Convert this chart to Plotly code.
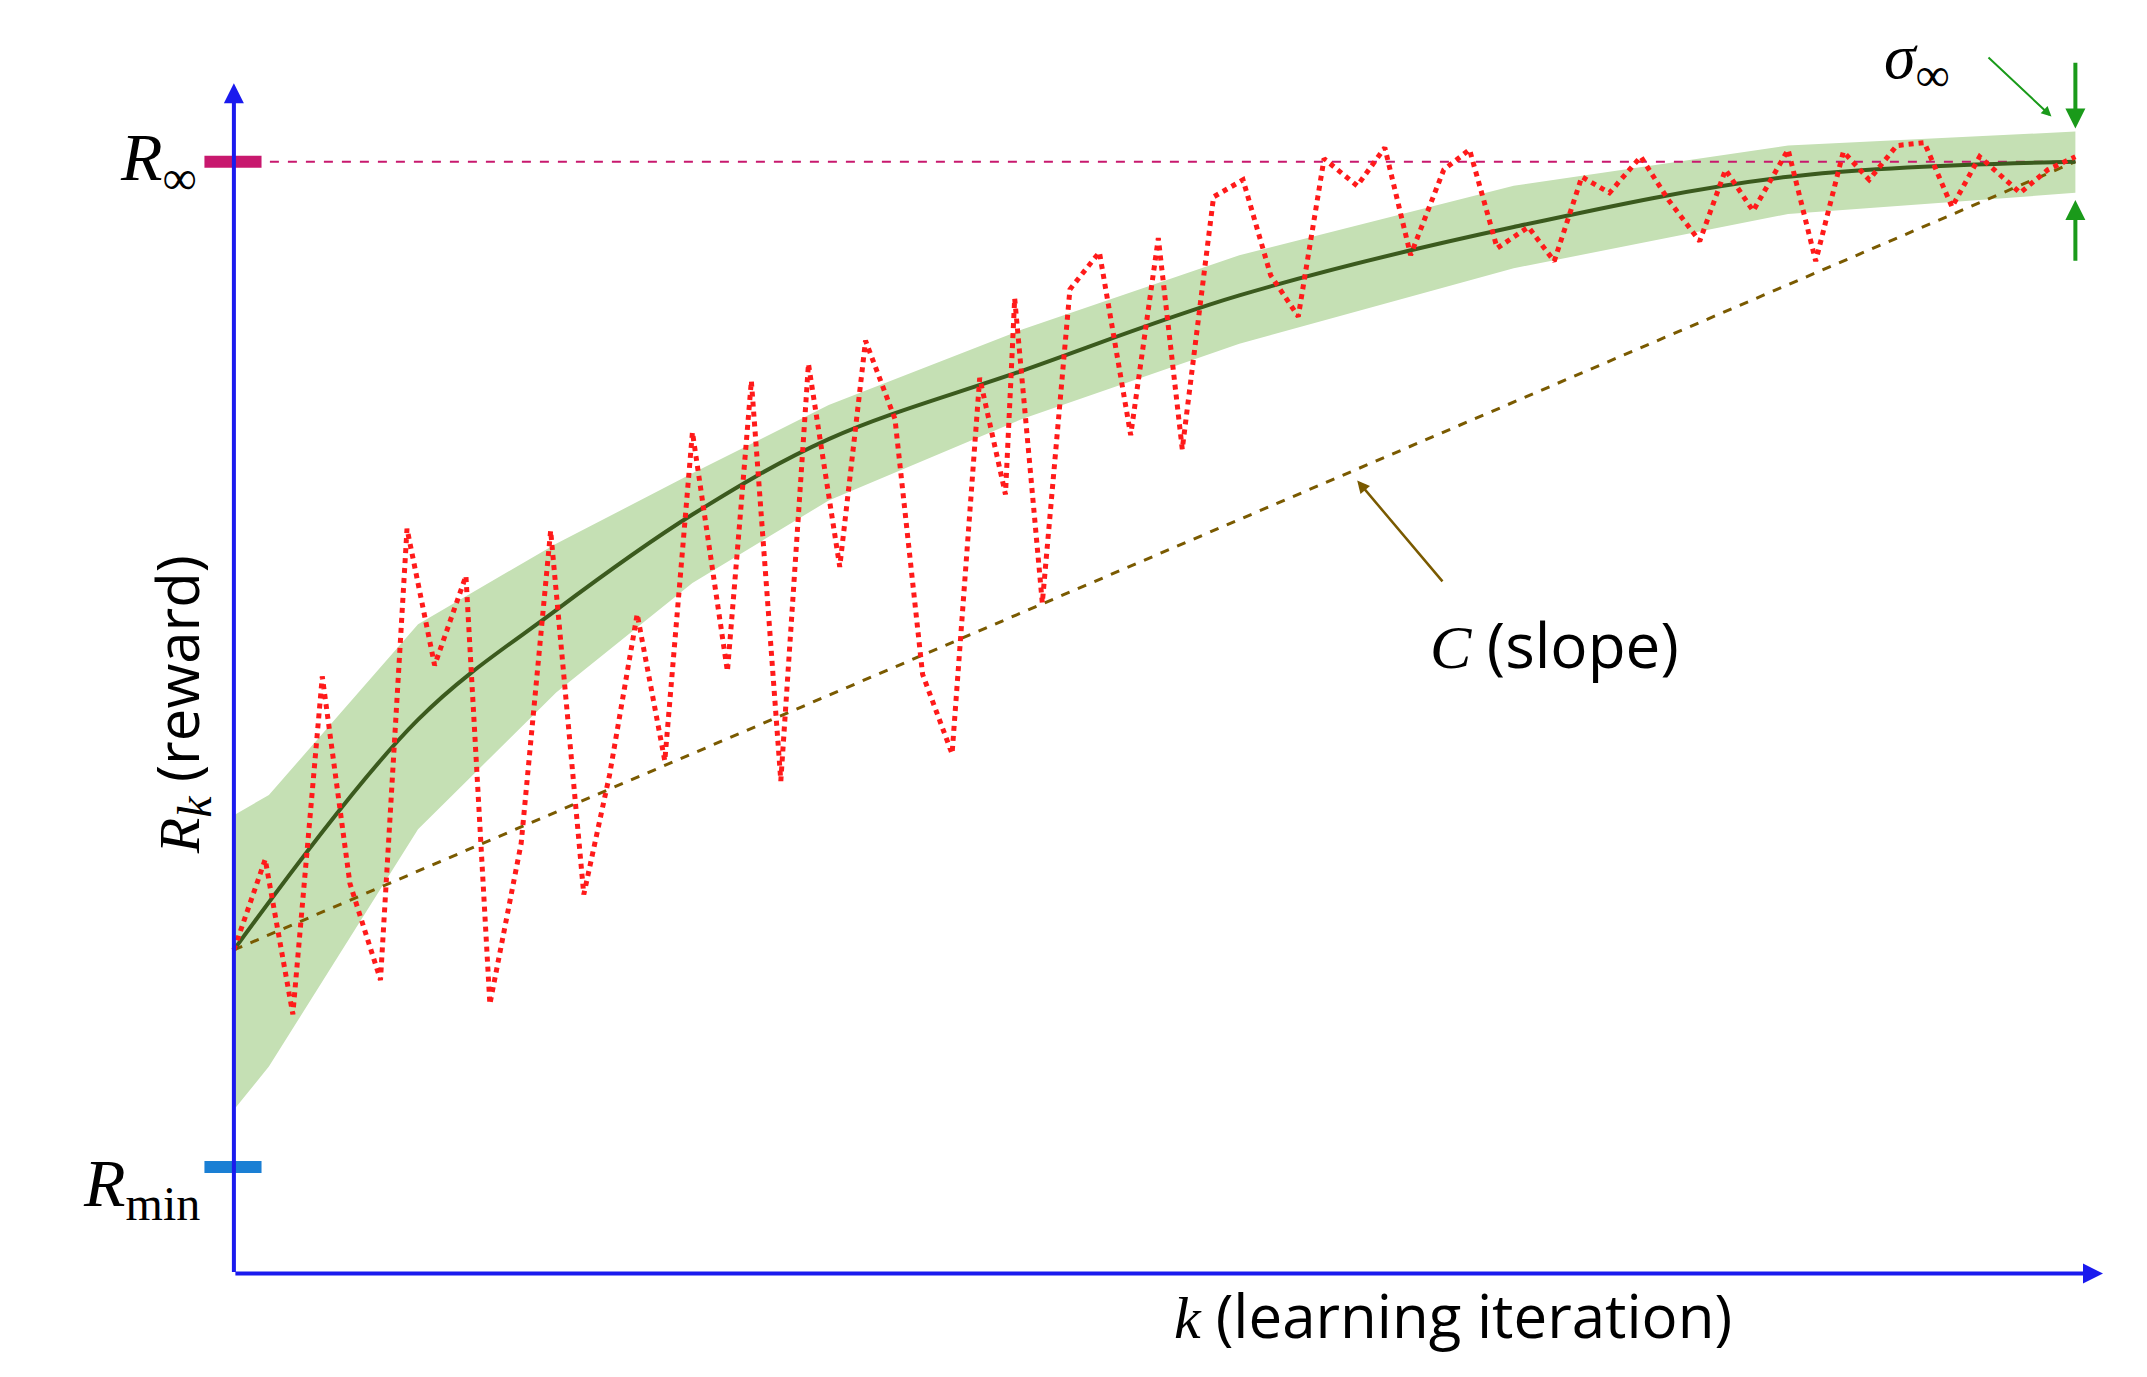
import plotly.graph_objects as go

# mean learning curve and its band (R normalised: Rmin=0, Rinf=1)
k_mean = [0, 10, 17.5, 24.9, 32.3, 42.8, 54.6, 69.5, 84.4, 100]
r_mean = [0.216, 0.445, 0.554, 0.649, 0.724, 0.792, 0.867, 0.935, 0.985, 1.0]
k_band = [0, 1.9, 10, 17.5, 24.9, 32.3, 42.8, 54.6, 69.5, 84.4, 100]
r_upper = [0.35, 0.37, 0.54, 0.62, 0.69, 0.758, 0.833, 0.907, 0.976, 1.016, 1.03]
r_lower = [0.057, 0.10, 0.336, 0.472, 0.581, 0.663, 0.744, 0.819, 0.894, 0.948, 0.969]

# noisy observed reward
k_obs = [0, 1.7, 3.2, 4.8, 6.3, 7.96, 9.4, 10.9, 12.6, 13.9, 15.6, 17.2, 19.0, 20.4, 21.9,
         23.4, 24.9, 26.8, 28.1, 29.7, 31.2, 32.9, 34.3, 35.9, 37.4, 39.0, 40.5, 41.9, 42.4,
         43.9, 45.4, 47.0, 48.7, 50.2, 51.5, 53.2, 54.8, 56.3, 57.8, 59.2, 61.0, 62.5, 63.9,
         65.7, 67.1, 68.6, 70.3, 71.7, 73.2, 74.7, 76.4, 77.9, 79.6, 81.0, 82.5, 84.4, 85.9,
         87.4, 88.8, 90.3, 91.8, 93.3, 94.8, 97.0, 98.5, 100]
r_obs = [0.216, 0.306, 0.152, 0.488, 0.282, 0.186, 0.635, 0.499, 0.588, 0.162, 0.322, 0.633,
         0.271, 0.390, 0.550, 0.404, 0.731, 0.493, 0.782, 0.384, 0.799, 0.597, 0.822, 0.744,
         0.490, 0.411, 0.785, 0.669, 0.864, 0.561, 0.873, 0.910, 0.728, 0.924, 0.714, 0.965,
         0.982, 0.887, 0.846, 1.003, 0.976, 1.014, 0.907, 0.992, 1.012, 0.914, 0.935, 0.901,
         0.985, 0.969, 1.005, 0.962, 0.921, 0.992, 0.951, 1.012, 0.901, 1.010, 0.982, 1.016,
         1.019, 0.955, 1.005, 0.969, 0.992, 1.005]

r_inf = 1.0
r_min = 0.0
k_end = 100
r_start = 0.216

XMIN, XMAX = -7, 101.5
AXY, AXTOP = -0.106, 1.078
YMIN, YMAX = -0.18, 1.13
SERIF = "Liberation Serif"
BLUE = "#1a1aee"
BROWN = "#7a5a00"
GREEN = "#1a9a1a"

fig = go.Figure()
fig.add_trace(go.Scatter(x=k_band + k_band[::-1], y=r_upper + r_lower[::-1], fill="toself",
                         fillcolor="#c5e0b4", line=dict(width=0), mode="lines", hoverinfo="skip"))
fig.add_trace(go.Scatter(x=[0, k_end], y=[r_inf, r_inf], mode="lines",
                         line=dict(color="#c8186e", width=2, dash="dash")))
fig.add_trace(go.Scatter(x=[0, k_end], y=[r_start, r_inf], mode="lines",
                         line=dict(color=BROWN, width=3, dash="dash")))
fig.add_trace(go.Scatter(x=k_mean, y=r_mean, mode="lines", line_shape="spline",
                         line=dict(color="#3b5a1e", width=4)))
fig.add_trace(go.Scatter(x=k_obs, y=r_obs, mode="lines",
                         line=dict(color="#ff1a1a", width=5, dash="dot")))

# tick markers
fig.add_trace(go.Scatter(x=[-1.6, 1.5], y=[r_inf, r_inf], mode="lines",
                         line=dict(color="#c8186e", width=12)))
fig.add_trace(go.Scatter(x=[-1.6, 1.5], y=[r_min, r_min], mode="lines",
                         line=dict(color="#1a7fd4", width=12)))

ann = []
# axes arrows
ann.append(dict(x=XMAX, y=AXY, ax=0, ay=AXY, axref="x", ayref="y", showarrow=True,
                arrowhead=2, arrowsize=1, arrowwidth=4, arrowcolor=BLUE, text=""))
ann.append(dict(x=0, y=AXTOP, ax=0, ay=AXY, axref="x", ayref="y", showarrow=True,
                arrowhead=2, arrowsize=1, arrowwidth=4, arrowcolor=BLUE, text=""))
# sigma arrows
ann.append(dict(x=k_end, y=1.033, ax=k_end, ay=1.10, axref="x", ayref="y", showarrow=True,
                arrowhead=2, arrowsize=1, arrowwidth=4, arrowcolor=GREEN, text=""))
ann.append(dict(x=k_end, y=0.962, ax=k_end, ay=0.90, axref="x", ayref="y", showarrow=True,
                arrowhead=2, arrowsize=1, arrowwidth=4, arrowcolor=GREEN, text=""))
ann.append(dict(x=98.7, y=1.045, ax=95.2, ay=1.105, axref="x", ayref="y", showarrow=True,
                arrowhead=2, arrowsize=1, arrowwidth=2, arrowcolor=GREEN, text=""))
# slope pointer
ann.append(dict(x=61.0, y=0.683, ax=65.7, ay=0.581, axref="x", ayref="y", showarrow=True,
                arrowhead=2, arrowsize=1, arrowwidth=2.5, arrowcolor=BROWN, text=""))

def label(x, y, text, size, **kw):
    ann.append(dict(x=x, y=y, text=text, showarrow=False,
                    font=dict(family=SERIF, size=size, color="black"), **kw))

SUB = "<sub><span style='font-size:48px'>%s</span></sub>"
label(-4.1, r_inf, "<i>R</i>" + SUB % "∞", 68)
label(-5.0, r_min - 0.02, "<i>R</i>" + SUB % "min", 68)
label(91.4, 1.10, "<i>σ</i>" + SUB % "∞", 64)
label(71.7, 0.52, "<i>C</i> <span style='font-family:Open Sans'>(slope)</span>", 62)
label(66.2, -0.147, "<i>k</i> <span style='font-family:Open Sans'>(learning iteration)</span>", 60)
label(-3.0, 0.46, "<i>R</i>" + SUB % "<i>k</i>" + " <span style='font-family:Open Sans'>(reward)</span>",
      58, textangle=-90)

fig.update_layout(
    width=2147, height=1377, showlegend=False,
    paper_bgcolor="white", plot_bgcolor="white",
    margin=dict(l=97, r=52, t=23, b=37),
    xaxis=dict(range=[XMIN, XMAX], visible=False),
    yaxis=dict(range=[YMIN, YMAX], visible=False),
    annotations=ann,
)
fig.write_html("out.html")
